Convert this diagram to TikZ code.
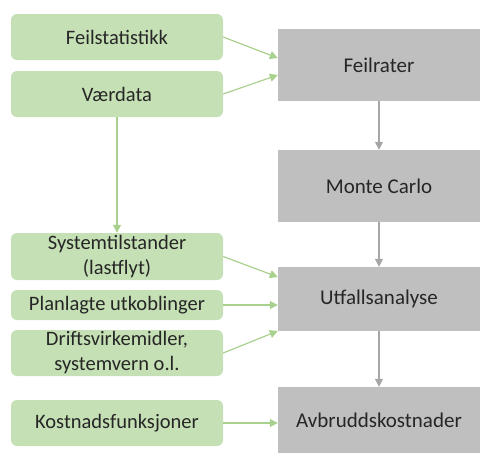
\documentclass[tikz,border=0pt]{standalone}
\usepackage{fontspec}
\setmainfont{Carlito}
\usetikzlibrary{arrows.meta}
\definecolor{gfill}{HTML}{C5E0B4}
\definecolor{garrow}{HTML}{A9D18E}
\definecolor{kfill}{HTML}{BFBFBF}
\definecolor{karrow}{HTML}{A6A6A6}
\begin{document}
\begin{tikzpicture}[x=1pt,y=-1pt,
  inbox/.style={fill=gfill,draw=none,rounded corners=6pt,align=center,font=\fontsize{20.5}{25}\selectfont,text=black!85,inner sep=0pt},
  procbox/.style={fill=kfill,draw=none,align=center,font=\fontsize{21}{25}\selectfont,text=black!85,inner sep=0pt},
  garr/.style={draw=garrow,line width=1.2pt,-{Triangle[length=8pt,width=8pt]}},
  karr/.style={draw=karrow,line width=1.2pt,-{Triangle[length=8pt,width=8pt]}}]
\useasboundingbox (0,0) rectangle (480,453);
% input boxes
\node[inbox,minimum width=212pt,minimum height=46pt] (fs) at (117,37) {Feilstatistikk};
\node[inbox,minimum width=212pt,minimum height=46pt] (vd) at (117,94) {Værdata};
\node[inbox,minimum width=212pt,minimum height=47pt] (st) at (117,256.5) {Systemtilstander\\(lastflyt)};
\node[inbox,minimum width=212pt,minimum height=30pt] (pu) at (117,305) {Planlagte utkoblinger};
\node[inbox,minimum width=212pt,minimum height=46pt] (dv) at (117,353) {Driftsvirkemidler,\\systemvern o.l.};
\node[inbox,minimum width=212pt,minimum height=46pt] (kf) at (117,423) {Kostnadsfunksjoner};
% process boxes
\node[procbox,minimum width=202pt,minimum height=72pt] (fr) at (379,65) {Feilrater};
\node[procbox,minimum width=202pt,minimum height=72pt] (mc) at (379,186) {Monte Carlo};
\node[procbox,minimum width=202pt,minimum height=64pt] (ua) at (379,299) {Utfallsanalyse};
\node[procbox,minimum width=202pt,minimum height=66pt] (ak) at (379,420) {Avbruddskostnader};
% green arrows
\draw[garr] (fs.east) -- ([yshift=7pt]fr.west);
\draw[garr] (vd.east) -- ([yshift=-10pt]fr.west);
\draw[garr] (vd.south) -- (st.north);
\draw[garr] (st.east) -- ([yshift=22pt]ua.west);
\draw[garr] (pu.east) -- (pu.east -| ua.west);
\draw[garr] (dv.east) -- ([yshift=-32pt]ua.west);
\draw[garr] (kf.east) -- (kf.east -| ak.west);
% gray arrows
\draw[karr] (fr.south) -- (mc.north);
\draw[karr] (mc.south) -- (ua.north);
\draw[karr] (ua.south) -- (ak.north);
\end{tikzpicture}
\end{document}
